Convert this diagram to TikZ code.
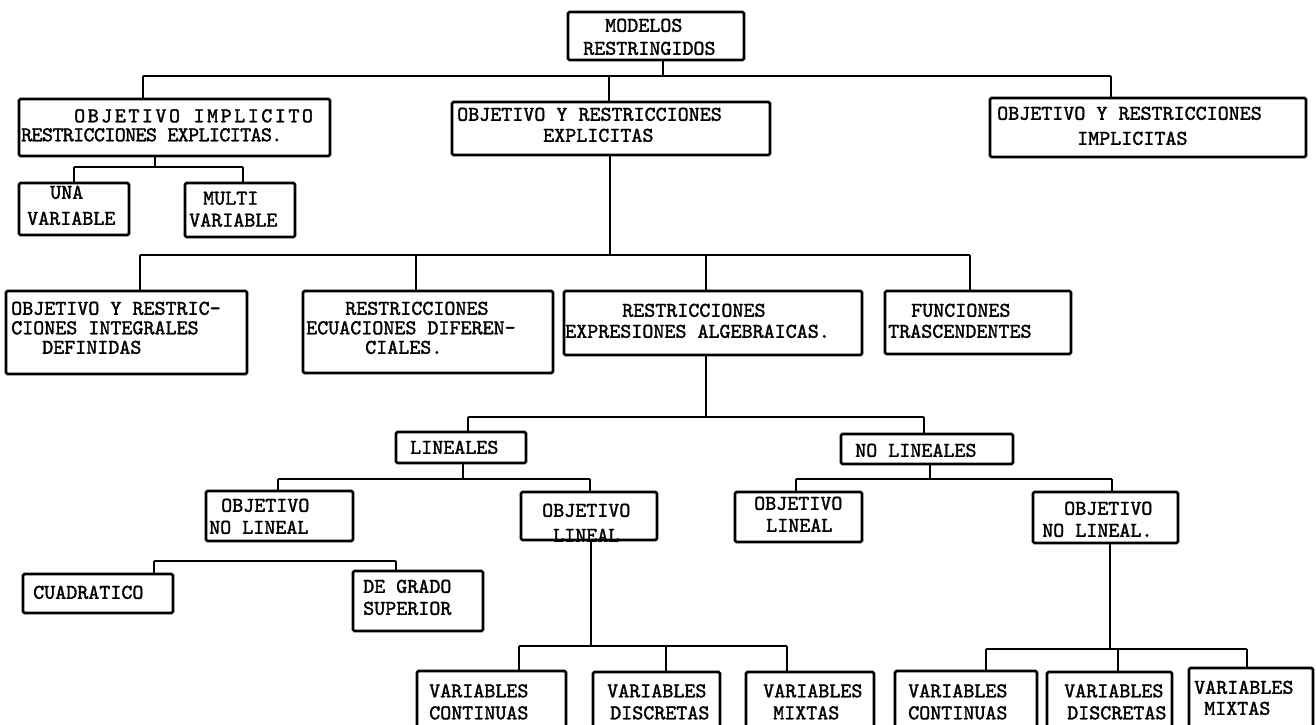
\documentclass[tikz,border=0pt]{standalone}
\usepackage{fontspec}
\newfontfamily\twfont{lmmono10-regular.otf}[FakeBold=1.6]
\usetikzlibrary{fit}
\begin{document}
\begin{tikzpicture}[x=1pt,y=-1pt,
  bx/.style={draw, line width=2.6pt, rounded corners=1.5pt, inner sep=0pt},
  ln/.style={line width=1.6pt},
  tx/.style={font=\twfont\fontsize{21}{#1}\selectfont, align=left, inner sep=0pt, anchor=north west}]
\useasboundingbox (0,0) rectangle (1316,724);
\fill[white] (0,0) rectangle (1316,724);
\clip (0,0) rectangle (1316,724);

% ---------- boxes ----------
\node[bx, fit={(568,12) (744,60)}] (root) {};
\node[bx, fit={(19,99) (330,156)}] (A) {};
\node[bx, fit={(452,102) (770,155)}] (B) {};
\node[bx, fit={(990,98) (1306,157)}] (C) {};
\node[bx, fit={(19,183) (129,235)}] (una) {};
\node[bx, fit={(185,183) (295,237)}] (multi) {};
\node[bx, fit={(6,291) (247,374)}] (D1) {};
\node[bx, fit={(303,291) (553,373)}] (D2) {};
\node[bx, fit={(564,291) (862,355)}] (D3) {};
\node[bx, fit={(885,291) (1071,354)}] (D4) {};
\node[bx, fit={(396,432) (526,463)}] (lin) {};
\node[bx, fit={(841,434) (1013,464)}] (nolin) {};
\node[bx, fit={(206,491) (353,541)}] (E1) {};
\node[bx, fit={(521,492) (657,540)}] (E2) {};
\node[bx, fit={(735,492) (862,542)}] (F1) {};
\node[bx, fit={(1033,492) (1178,543)}] (F2) {};
\node[bx, fit={(23,574) (173,613)}] (cuad) {};
\node[bx, fit={(353,571) (483,631)}] (grado) {};
\node[bx, fit={(417,671) (566,745)}] (vc1) {};
\node[bx, fit={(593,672) (720,745)}] (vd1) {};
\node[bx, fit={(746,672) (874,745)}] (vm1) {};
\node[bx, fit={(895,671) (1037,745)}] (vc2) {};
\node[bx, fit={(1047,672) (1172,745)}] (vd2) {};
\node[bx, fit={(1189,668) (1313,745)}] (vm2) {};

% ---------- texts ----------
\node[tx=23] (rootT) at (583,18.5) {\hspace*{22pt}MODELOS\\RESTRINGIDOS};
\node[tx=19] (AT) at (21,109) {\hspace*{53pt}{\addfontfeature{LetterSpace=12}OBJETIVO IMPLICITO}\\{\addfontfeature{LetterSpace=-3}RESTRICCIONES EXPLICITAS.}};
\node[tx=21] (BT) at (457,107.5) {OBJETIVO Y RESTRICCIONES\\\hspace*{86pt}EXPLICITAS};
\node[tx=25] (CT) at (997,106.5) {OBJETIVO Y RESTRICCIONES\\\hspace*{80pt}IMPLICITAS};
\node[tx=26] (unaT) at (27,185.5) {\hspace*{23pt}UNA\\VARIABLE};
\node[tx=22] (multiT) at (189,191.5) {\hspace*{14pt}MULTI\\VARIABLE};
\node[tx=19.5] (D1T) at (11,301.5) {OBJETIVO Y RESTRIC-\\CIONES INTEGRALES\\\hspace*{31pt}DEFINIDAS};
\node[tx=19.5] (D2T) at (306,301.5) {\hspace*{39pt}RESTRICCIONES\\ECUACIONES DIFEREN-\\\hspace*{59pt}CIALES.};
\node[tx=21] (D3T) at (565,303.5) {\hspace*{57pt}RESTRICCIONES\\EXPRESIONES ALGEBRAICAS.};
\node[tx=21] (D4T) at (888,303.5) {\hspace*{23pt}FUNCIONES\\TRASCENDENTES};
\node[tx=21] (linT) at (410,440.5) {LINEALES};
\node[tx=21] (nolinT) at (855,443.5) {NO LINEALES};
\node[tx=22] (E1T) at (209,498.5) {\hspace*{12pt}OBJETIVO\\NO LINEAL};
\node[tx=25] (E2T) at (542,503.5) {OBJETIVO\\\hspace*{11pt}LINEAL};
\node[tx=22] (F1T) at (754,496.5) {OBJETIVO\\\hspace*{12pt}LINEAL};
\node[tx=22] (F2T) at (1042,501.5) {\hspace*{22pt}OBJETIVO\\NO LINEAL.};
\node[tx=21] (cuadT) at (33,585.5) {CUADRATICO};
\node[tx=22] (gradoT) at (363,579.5) {DE GRADO\\SUPERIOR};
\node[tx=22] (vc1T) at (429,684) {VARIABLES\\CONTINUAS};
\node[tx=22] (vd1T) at (607,684) {VARIABLES\\\hspace*{3pt}DISCRETAS};
\node[tx=22] (vm1T) at (763,684) {VARIABLES\\\hspace*{10pt}MIXTAS};
\node[tx=22] (vc2T) at (908,684) {VARIABLES\\CONTINUAS};
\node[tx=22] (vd2T) at (1064,684) {VARIABLES\\\hspace*{3pt}DISCRETAS};
\node[tx=21] (vm2T) at (1194,680.5) {VARIABLES\\\hspace*{10pt}MIXTAS};

% ---------- connectors ----------
% level 1
\coordinate (h1L) at (143,76);
\coordinate (h1B) at (609,76);
\coordinate (h1M) at (663,76);
\coordinate (h1R) at (1111,76);
\draw[ln] (root.south -| h1M) -- (h1M);
\draw[ln] (h1L) -- (h1R);
\draw[ln] (h1L) -- (h1L |- A.north);
\draw[ln] (h1B) -- (h1B |- B.north);
\draw[ln] (h1R) -- (h1R |- C.north);
% under A
\coordinate (haM) at (155,167);
\coordinate (haL) at (74,167);
\coordinate (haR) at (243,167);
\draw[ln] (A.south -| haM) -- (haM);
\draw[ln] (haL) -- (haR);
\draw[ln] (haL) -- (haL |- una.north);
\draw[ln] (haR) -- (haR |- multi.north);
% level 2
\coordinate (h2M) at (610,255);
\coordinate (h2a) at (140,255);
\coordinate (h2b) at (416,255);
\coordinate (h2c) at (706,255);
\coordinate (h2d) at (970,255);
\draw[ln] (B.south -| h2M) -- (h2M);
\draw[ln] (h2a) -- (h2d);
\draw[ln] (h2a) -- (h2a |- D1.north);
\draw[ln] (h2b) -- (h2b |- D2.north);
\draw[ln] (h2c) -- (h2c |- D3.north);
\draw[ln] (h2d) -- (h2d |- D4.north);
% level 3
\coordinate (h3M) at (706,417);
\coordinate (h3a) at (468,417);
\coordinate (h3b) at (924,417);
\draw[ln] (D3.south -| h3M) -- (h3M);
\draw[ln] (h3a) -- (h3b);
\draw[ln] (h3a) -- (h3a |- lin.north);
\draw[ln] (h3b) -- (h3b |- nolin.north);
% under LINEALES
\coordinate (h4M) at (463,479);
\coordinate (h4a) at (278,479);
\coordinate (h4b) at (590,479);
\draw[ln] (lin.south -| h4M) -- (h4M);
\draw[ln] (h4a) -- (h4b);
\draw[ln] (h4a) -- (h4a |- E1.north);
\draw[ln] (h4b) -- (h4b |- E2.north);
% under NO LINEALES
\coordinate (h5M) at (930,479);
\coordinate (h5a) at (796,479);
\coordinate (h5b) at (1112,479);
\draw[ln] (nolin.south -| h5M) -- (h5M);
\draw[ln] (h5a) -- (h5b);
\draw[ln] (h5a) -- (h5a |- F1.north);
\draw[ln] (h5b) -- (h5b |- F2.north);
% cuadratico / de grado superior
\coordinate (h6a) at (154,561);
\coordinate (h6b) at (396,561);
\draw[ln] (h6a) -- (h6b);
\draw[ln] (h6a) -- (h6a |- cuad.north);
\draw[ln] (h6b) -- (h6b |- grado.north);
% under OBJETIVO LINEAL
\coordinate (h7M) at (591,646);
\coordinate (h7a) at (519,646);
\coordinate (h7b) at (666,646);
\coordinate (h7c) at (787,646);
\draw[ln] (E2.south -| h7M) -- (h7M);
\draw[ln] (h7a) -- (h7c);
\draw[ln] (h7a) -- (h7a |- vc1.north);
\draw[ln] (h7b) -- (h7b |- vd1.north);
\draw[ln] (h7c) -- (h7c |- vm1.north);
% under OBJETIVO NO LINEAL.
\coordinate (h8M) at (1110,649);
\coordinate (h8a) at (986,649);
\coordinate (h8b) at (1118,649);
\coordinate (h8c) at (1247,649);
\draw[ln] (F2.south -| h8M) -- (h8M);
\draw[ln] (h8a) -- (h8c);
\draw[ln] (h8a) -- (h8a |- vc2.north);
\draw[ln] (h8b) -- (h8b |- vd2.north);
\draw[ln] (h8c) -- (h8c |- vm2.north);
\end{tikzpicture}
\end{document}
